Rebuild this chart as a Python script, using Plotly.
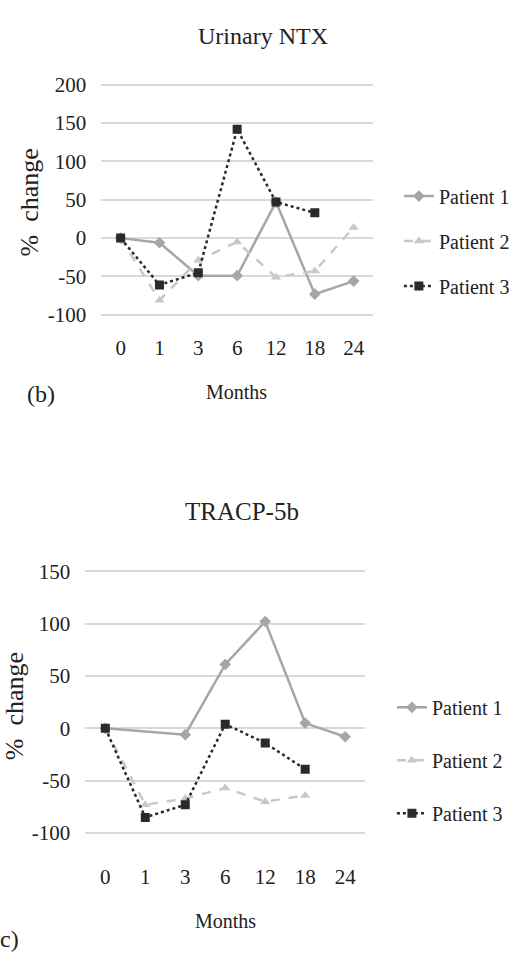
import plotly.graph_objects as go

months = ["0", "1", "3", "6", "12", "18", "24"]

ntx_p1 = [0, -6, -49, -49, 47, -73, -56]
ntx_p2 = [0, -81, -29, -5, -51, -43, 14]
ntx_p3 = [0, -61, -45, 142, 47, 33, None]

tracp_p1 = [0, None, -6, 61, 102, 5, -8]
tracp_p2 = [0, -73, -67, -57, -70, -64, None]
tracp_p3 = [0, -85, -73, 4, -14, -39, None]

patients = ["Patient 1", "Patient 2", "Patient 3"]
yticks_top = [-100, -50, 0, 50, 100, 150, 200]
yticks_bot = [-100, -50, 0, 50, 100, 150]

FONT = "Liberation Serif"
TXT = "#222222"
styles = [
    dict(color="#a6a6a6", dash="solid", symbol="diamond"),
    dict(color="#c8c8c8", dash="dash", symbol="triangle-up"),
    dict(color="#2a2a2a", dash="dot", symbol="square"),
]

fig = go.Figure()
for i, (name, vals) in enumerate(zip(patients, [ntx_p1, ntx_p2, ntx_p3])):
    s = styles[i]
    fig.add_trace(go.Scatter(
        x=months, y=vals, name=name, mode="lines+markers", connectgaps=True,
        line=dict(color=s["color"], dash=s["dash"], width=2.5),
        marker=dict(symbol=s["symbol"], size=9, color=s["color"]),
        xaxis="x", yaxis="y", legend="legend", legendgroup="a%d" % i))
for i, (name, vals) in enumerate(zip(patients, [tracp_p1, tracp_p2, tracp_p3])):
    s = styles[i]
    fig.add_trace(go.Scatter(
        x=months, y=vals, name=name, mode="lines+markers", connectgaps=True,
        line=dict(color=s["color"], dash=s["dash"], width=2.5),
        marker=dict(symbol=s["symbol"], size=9, color=s["color"]),
        xaxis="x2", yaxis="y2", legend="legend2", legendgroup="b%d" % i))

axis_common = dict(showline=False, ticks="", tickfont=dict(family=FONT, size=21, color=TXT))
xcommon = dict(type="category", categoryorder="array", categoryarray=months,
               range=[-0.5, 6.5], showgrid=False, zeroline=False, **axis_common)
ycommon = dict(showgrid=True, gridcolor="#d9d9d9", gridwidth=1.5, zeroline=True,
               zerolinecolor="#d9d9d9", zerolinewidth=1.5, ticklabelstandoff=14, **axis_common)


def ann(text, x, y, size, angle=0):
    return dict(text=text, x=x/515, y=1-y/967, xref="paper", yref="paper",
                xanchor="center", yanchor="middle", textangle=angle,
                showarrow=False, font=dict(family=FONT, size=size, color=TXT))


fig.update_layout(
    width=515, height=967,
    margin=dict(l=0, r=0, t=0, b=0),
    paper_bgcolor="white", plot_bgcolor="white",
    font=dict(family=FONT, color=TXT),
    xaxis=dict(domain=[102/515, 376/515], anchor="y", ticklabelstandoff=14, **xcommon),
    yaxis=dict(domain=[1-315.9/967, 1-74.1/967], anchor="x", range=[-105, 205],
               tickvals=yticks_top, ticktext=[str(v) for v in yticks_top], **ycommon),
    xaxis2=dict(domain=[86/515, 368/515], anchor="y2", ticklabelstandoff=24, **xcommon),
    yaxis2=dict(domain=[1-844.3/967, 1-567.4/967], anchor="x2", range=[-105, 155],
                tickvals=yticks_bot, ticktext=[str(v) for v in yticks_bot], **ycommon),
    legend=dict(x=402/515, y=1-237/967, xanchor="left", yanchor="middle",
                font=dict(family=FONT, size=20, color=TXT), tracegroupgap=16,
                bgcolor="rgba(0,0,0,0)"),
    legend2=dict(x=395/515, y=1-765/967, xanchor="left", yanchor="middle",
                 font=dict(family=FONT, size=20, color=TXT), tracegroupgap=24,
                 bgcolor="rgba(0,0,0,0)"),
    showlegend=True,
    annotations=[
        ann("Urinary NTX", 265, 28, 24),
        ann("TRACP-5b", 244, 512, 25),
        ann("%  change", 30, 198, 26, -90),
        ann("%  change", 14, 710, 26, -90),
        ann("Months", 238, 390, 20),
        ann("Months", 227, 928, 20),
        ann("(b)", 41, 393, 24),
        ann("c)", 10, 947, 24),
    ],
)

fig.write_html("out.html")
